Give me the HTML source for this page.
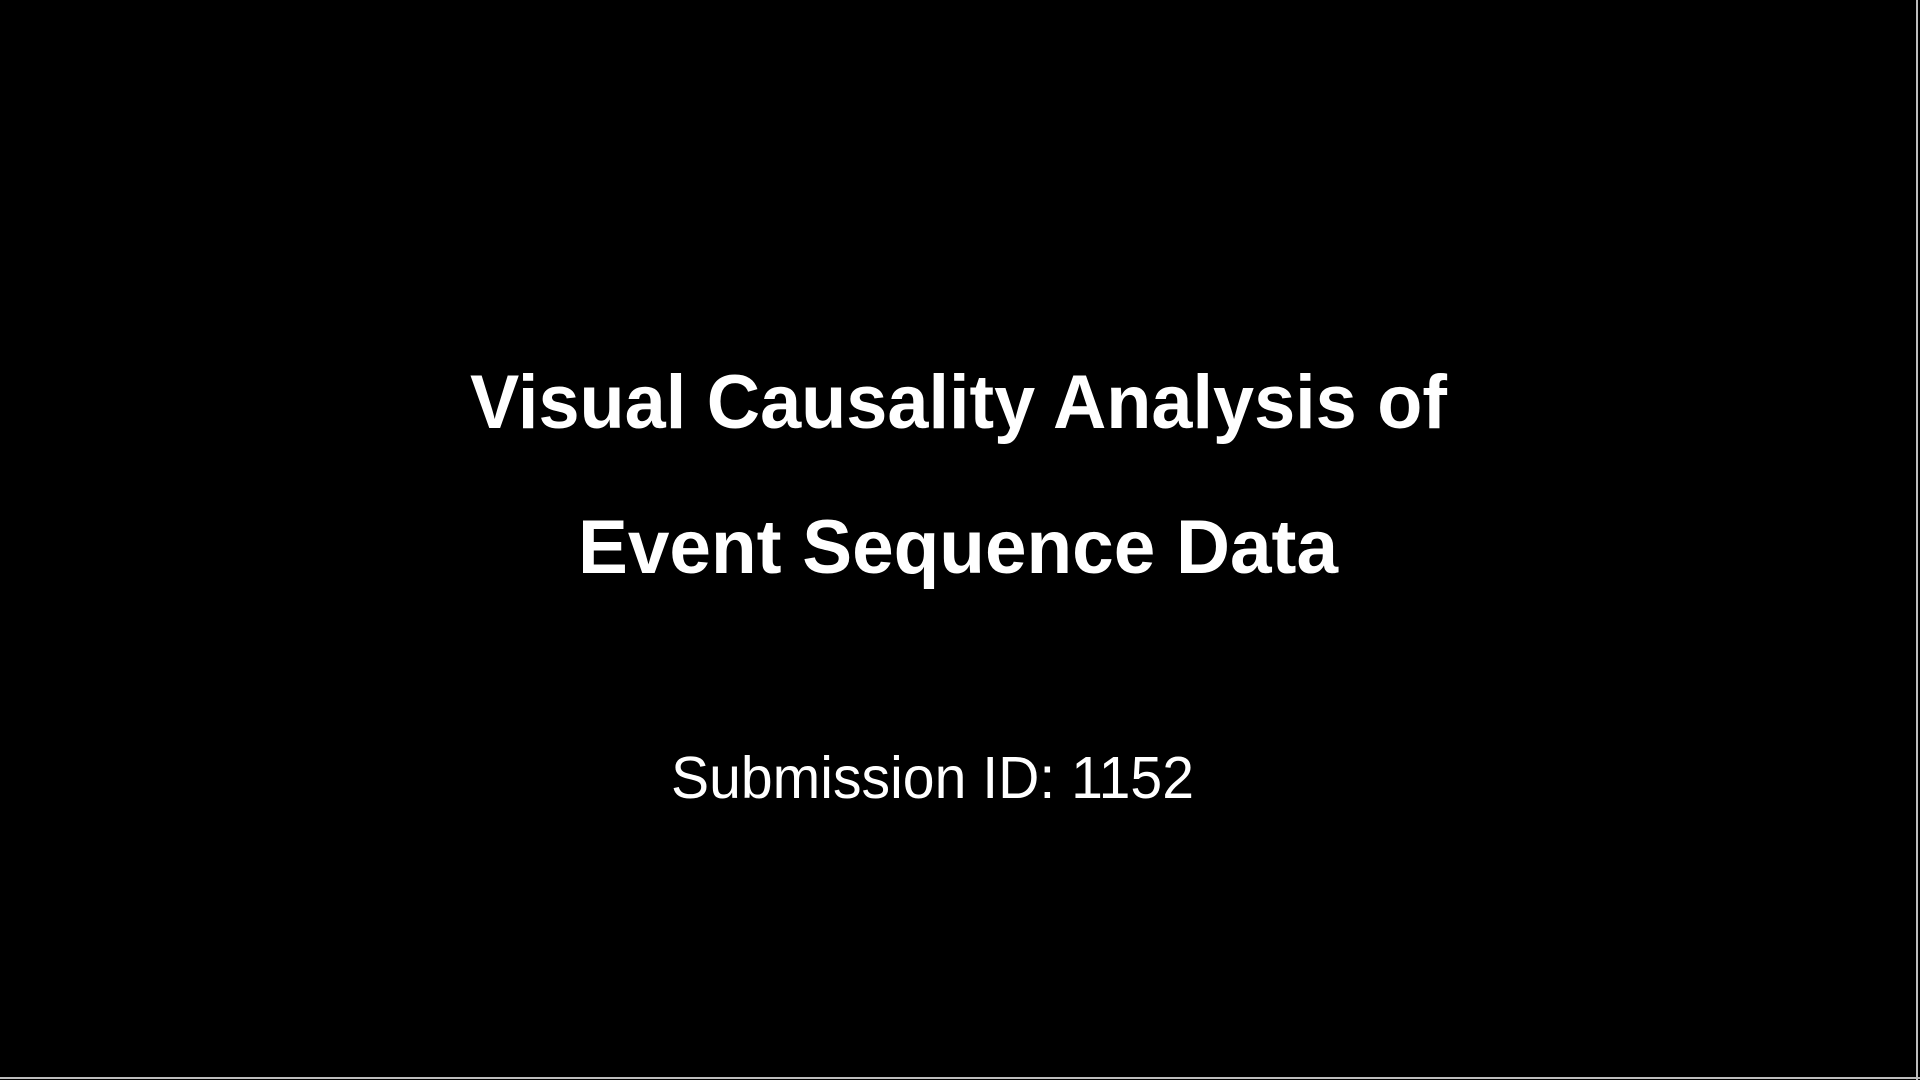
<!DOCTYPE html>
<html>
<head>
<meta charset="utf-8">
<style>
html,body{margin:0;padding:0;background:#000;}
body{width:1920px;height:1080px;overflow:hidden;position:relative;}
svg{position:absolute;left:0;top:0;}
</style>
</head>
<body>
<svg width="1920" height="1080" viewBox="0 0 1920 1080">
  <rect x="0" y="0" width="1920" height="1080" fill="#000"/>
  <text x="470" y="428" textLength="977" lengthAdjust="spacingAndGlyphs" fill="#fff" font-family="Liberation Sans, sans-serif" font-weight="bold" font-size="76">Visual Causality Analysis of</text>
  <text x="578" y="573" textLength="760" lengthAdjust="spacingAndGlyphs" fill="#fff" font-family="Liberation Sans, sans-serif" font-weight="bold" font-size="76">Event Sequence Data</text>
  <text x="671" y="798" textLength="523" lengthAdjust="spacingAndGlyphs" fill="#fff" font-family="Liberation Sans, sans-serif" font-size="59">Submission ID: 1152</text>
  <rect x="1916" y="0" width="2" height="1080" fill="#bdbdbd"/>
  <rect x="0" y="1077" width="1920" height="2" fill="#bdbdbd"/>
</svg>
</body>
</html>
